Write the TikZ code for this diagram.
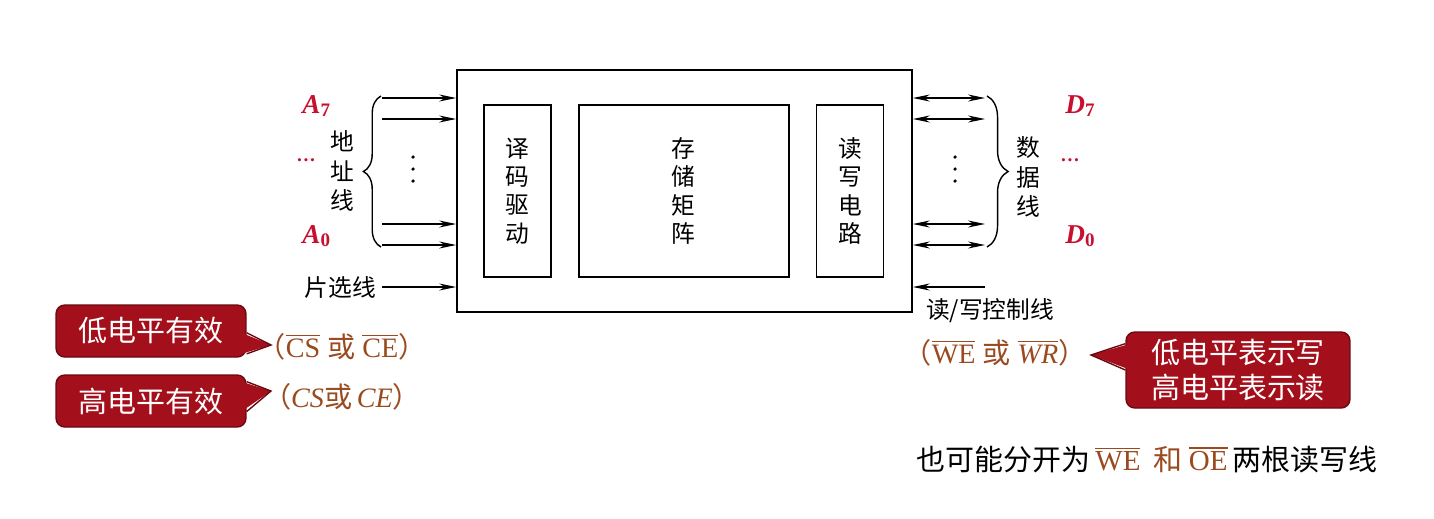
\documentclass[tikz,border=0pt]{standalone}
\usepackage{fontspec}
\setmainfont{Liberation Serif}
\newfontfamily\cjk{Noto Sans CJK SC}
\usetikzlibrary{arrows.meta,positioning,calc,decorations.pathreplacing}
\definecolor{pinRed}{HTML}{C8102E}
\definecolor{noteBrown}{HTML}{9A4A1F}
\definecolor{noteFill}{HTML}{A30F1B}
\definecolor{noteEdge}{HTML}{6A0A10}
\newcommand\ovbar[1]{\leavevmode\vbox{\hrule height 0.9pt\kern 1.6pt\hbox{#1}}}

\begin{document}
\begin{tikzpicture}[
    x=0.02cm, y=-0.02cm,
    font=\cjk\fontsize{13.5}{16}\selectfont,
    mainbox/.style={
        rectangle,
        draw,
        line width=1pt,
        minimum width=9.1cm,
        minimum height=4.84cm,
        inner sep=0pt
    },
    unitbox/.style={
        rectangle,
        draw,
        line width=1pt,
        minimum width=1.34cm,
        minimum height=3.44cm,
        inner sep=0pt,
        align=center,
        font=\cjk\fontsize{13.5}{16.2}\selectfont
    },
    vlabel/.style={
        align=center,
        font=\cjk\fontsize{13.5}{16.8}\selectfont
    },
    sig/.style={
        -{Stealth[length=3.4mm,width=1.4mm]},
        line width=0.8pt
    },
    bisig/.style={
        {Stealth[length=3.4mm,width=1.4mm]}-{Stealth[length=3.4mm,width=1.4mm]},
        line width=0.8pt
    },
    busbrace/.style={
        decorate,
        decoration={brace, amplitude=10pt},
        line width=0.8pt
    },
    pinname/.style={
        text=pinRed,
        inner sep=0pt,
        font=\rmfamily\bfseries\itshape\fontsize{15.5}{18}\selectfont
    },
    pindots/.style={
        text=pinRed,
        inner sep=0pt,
        font=\rmfamily\bfseries\fontsize{11}{12}\selectfont
    },
    note/.style={
        rectangle,
        rounded corners=5pt,
        fill=noteFill,
        draw=noteEdge,
        line width=0.8pt,
        text=white,
        align=center,
        font=\cjk\fontsize{16.5}{19.5}\selectfont
    },
    level/.style={
        text=noteBrown,
        font=\fontsize{16}{19}\selectfont
    }
]
\useasboundingbox (0,0) rectangle (1434,518);

% -------------------- Memory chip -----------------------------
\node[mainbox] (chip) at (684.5,191) {};
\node[unitbox, right=0.54cm of chip.west, anchor=west] (dec) {译\\码\\驱\\动};
\node[unitbox, right=0.52cm of dec, minimum width=4.2cm] (mat) {存\\储\\矩\\阵};
\node[unitbox, right=0.52cm of mat] (rw) {读\\写\\电\\路};

% -------------------- Address lines ---------------------------
\coordinate (a7) at (382,98);
\coordinate (a6) at (382,119);
\coordinate (a1) at (382,224);
\coordinate (a0) at (382,245);
\draw[sig] (a7) -- (a7 -| chip.west);
\draw[sig] (a6) -- (a6 -| chip.west);
\draw[sig] (a1) -- (a1 -| chip.west);
\draw[sig] (a0) -- (a0 -| chip.west);
\fill (413,157) circle (1pt) (413,169) circle (1pt) (413,181) circle (1pt);
\draw[busbrace] (381,247) -- (381,96);
\node[vlabel] (addrlbl) at (342,171) {地\\址\\线};
\node[pinname, anchor=base west] (a7lbl) at (302,113) {A{\upshape\textsubscript{7}}};
\node[pindots, anchor=base] (adots) at (306,161) {…};
\node[pinname, anchor=base west] (a0lbl) at (302,243) {A{\upshape\textsubscript{0}}};

% -------------------- Chip select -----------------------------
\coordinate (csin) at (382,287);
\draw[sig] (csin) -- (csin -| chip.west);
\node[anchor=east] (cslbl) at (csin) {片选线};

% -------------------- Data lines ------------------------------
\coordinate (d7) at (985,98);
\coordinate (d6) at (985,119);
\coordinate (d1) at (985,224);
\coordinate (d0) at (985,245);
\draw[bisig] (d7 -| chip.east) -- (d7);
\draw[bisig] (d6 -| chip.east) -- (d6);
\draw[bisig] (d1 -| chip.east) -- (d1);
\draw[bisig] (d0 -| chip.east) -- (d0);
\fill (955,157) circle (1pt) (955,169) circle (1pt) (955,181) circle (1pt);
\draw[busbrace, decoration={amplitude=12pt}] (987,96) -- (987,247);
\node[vlabel] (datalbl) at (1028,177) {数\\据\\线};
\node[pinname, anchor=base west] (d7lbl) at (1065,113) {D{\upshape\textsubscript{7}}};
\node[pindots, anchor=base] (ddots) at (1070,161) {…};
\node[pinname, anchor=base west] (d0lbl) at (1065,243) {D{\upshape\textsubscript{0}}};

% -------------------- Read/write control ----------------------
\coordinate (rwin) at (985,287);
\draw[sig] (rwin) -- (rwin -| chip.east);
\node (rwlbl) at (990,311) {读/写控制线};

% -------------------- Level notes -----------------------------
\node[level] (cslow) at (342,347) {{\cjk （}\ovbar{CS} {\cjk 或} \ovbar{CE}{\cjk ）}};
\node[level] (cshigh) at (342,397) {{\cjk （}\textit{CS}{\cjk 或}\,\textit{CE}{\cjk ）}};
\node[level] (rwlevel) at (995,353) {{\cjk （}\ovbar{WE} {\cjk 或} \ovbar{\itshape WR}{\cjk ）}};

% -------------------- Callouts --------------------------------
\node[note, minimum width=3.8cm, minimum height=1.04cm] (lownote) at (151,331) {低电平有效};
\node[note, minimum width=3.8cm, minimum height=1.04cm] (highnote) at (151,401) {高电平有效};
\node[note, minimum width=4.48cm, minimum height=1.52cm] (rwnote) at (1238,370) {低电平表示写\\高电平表示读};

\coordinate (lowtip) at (271,345);
\fill[noteFill] ($(lownote.east)+(-3pt,-1pt)$) -- (lowtip) -- ($(lownote.east)+(-3pt,-13pt)$) -- cycle;
\draw[noteEdge, line width=0.8pt] ($(lownote.east)+(0,-1pt)$) -- (lowtip) -- ($(lownote.east)+(0,-13pt)$);

\coordinate (hightip) at (271,391);
\fill[noteFill] ($(highnote.east)+(-3pt,11pt)$) -- (hightip) -- ($(highnote.east)+(-3pt,-6pt)$) -- cycle;
\draw[noteEdge, line width=0.8pt] ($(highnote.east)+(0,11pt)$) -- (hightip) -- ($(highnote.east)+(0,-6pt)$);

\coordinate (rwtip) at (1091,355);
\fill[noteFill] ($(rwnote.west)+(3pt,15pt)$) -- (rwtip) -- ($(rwnote.west)+(3pt,0pt)$) -- cycle;
\draw[noteEdge, line width=0.8pt] ($(rwnote.west)+(0,15pt)$) -- (rwtip) -- ($(rwnote.west)+(0,0pt)$);

% -------------------- Separate lines --------------------------
\node[font=\cjk\fontsize{16.5}{19}\selectfont] (splitnote) at (1147,460) {也可能分开为\,\textcolor{noteBrown}{\rmfamily\ovbar{WE}}\ \ \textcolor{noteBrown}{和}\ \textcolor{noteBrown}{\rmfamily\ovbar{OE}}\,两根读写线};

\end{tikzpicture}
\end{document}
